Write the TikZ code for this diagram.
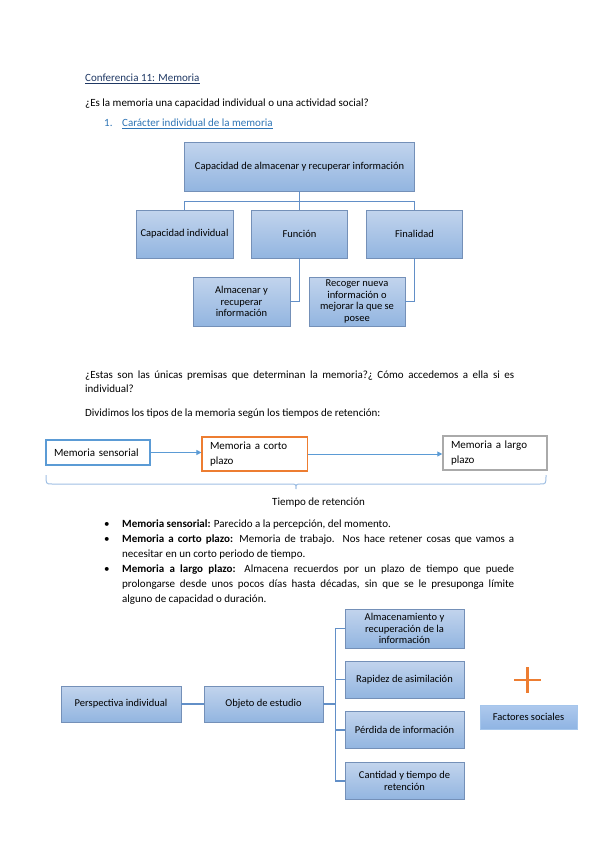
\documentclass[tikz,border=0pt]{standalone}
\usepackage{fontspec}
\setmainfont{Carlito}
\usetikzlibrary{arrows.meta}

\definecolor{smtop}{RGB}{194,212,237}
\definecolor{smbot}{RGB}{146,181,224}
\definecolor{smline}{RGB}{116,144,184}
\definecolor{conn}{RGB}{98,143,199}
\definecolor{tlblue}{RGB}{91,155,213}
\definecolor{tlorange}{RGB}{237,125,49}
\definecolor{tlgray}{RGB}{170,170,170}
\definecolor{bracec}{RGB}{160,192,228}
\definecolor{titleblue}{RGB}{31,56,100}
\definecolor{headblue}{RGB}{46,116,181}
\definecolor{ftop}{RGB}{174,201,237}
\definecolor{fbot}{RGB}{143,180,227}
\definecolor{fline}{RGB}{165,198,236}

\tikzset{
  txt/.style={anchor=base west, inner sep=0pt, font=\fontsize{11}{13}\selectfont},
  smbox/.style={draw=smline, line width=0.8pt, top color=smtop, bottom color=smbot,
    inner sep=2pt, align=center, font=\fontsize{10.5}{11.8}\selectfont},
  fbox/.style={draw=fline, line width=0.8pt, top color=ftop, bottom color=fbot,
    inner sep=2pt, align=center, font=\fontsize{10.5}{11.8}\selectfont},
  tlbox/.style={fill=white, line width=1.2pt, inner xsep=8pt, inner ysep=2pt,
    align=left, font=\fontsize{11}{14.5}\selectfont},
  connone/.style={draw=conn, line width=1.8pt},
  conntwo/.style={draw=conn, line width=1.5pt},
  tlarrow/.style={draw=tlblue, line width=1pt, -{Triangle[length=5pt,width=5pt]}},
}

\begin{document}
\begin{tikzpicture}[x=1pt,y=-1pt]
\useasboundingbox[fill=white] (0,0) rectangle (599,848);

% ---------- heading texts ----------
\node[txt, text=titleblue] (title) at (85,82) {\underline{Conferencia 11: Memoria}};
\node[txt] (q) at (85,107) {¿Es la memoria una capacidad individual o una actividad social?};
\node[txt, text=headblue] (num) at (104,127) {1.};
\node[txt, text=headblue] (head) at (122,127) {\underline{Carácter individual de la memoria}};

% ---------- first chart ----------
\node[smbox, minimum width=230pt, minimum height=49pt] (T) at (299.5,166.5)
  {Capacidad de almacenar y recuperar información};
\node[smbox, minimum width=97pt, minimum height=48pt] (C1) at (184.5,234) {Capacidad individual};
\node[smbox, minimum width=96pt, minimum height=48pt] (C2) at (299.5,234) {Función};
\node[smbox, minimum width=96pt, minimum height=48pt] (C3) at (414.5,234) {Finalidad};
\node[smbox, minimum width=97pt, minimum height=49pt] (D1) at (241.5,301.5)
  {Almacenar y\\recuperar\\información};
\node[smbox, minimum width=96pt, minimum height=49pt] (D2) at (357,301.5)
  {Recoger nueva\\información o\\mejorar la que se\\posee};

\draw[connone] (T.south) -- (C2.north);
\draw[connone] (C1.north) |- (299.5,201.5) -| (C3.north);
\draw[connone] (C2.south) |- (D1.east);
\draw[connone] (C3.south) |- (D2.east);

% ---------- paragraph ----------
\node[txt] (p1) at (85,378)
  {\makebox[429pt][s]{¿Estas son las únicas premisas que determinan la memoria?¿ Cómo accedemos a ella si es}};
\node[txt] (p2) at (85,392) {individual?};
\node[txt] (p3) at (85,416) {Dividimos los tipos de la memoria según los tiempos de retención:};

% ---------- timeline ----------
\node[tlbox, draw=tlblue, text width=88pt, minimum height=25pt] (A) at (98,452.5) {Memoria sensorial};
\node[tlbox, draw=tlorange, text width=89.5pt, minimum height=34pt] (B) at (254.75,454) {Memoria a corto\\plazo};
\node[tlbox, draw=tlgray, line width=1.5pt, text width=88pt, minimum height=34pt] (C) at (495,453) {Memoria a largo\\plazo};

\draw[tlarrow] (A.east) -- (A.east -| B.west);
\draw[tlarrow] (B.east) -- (B.east -| C.west);

\draw[bracec, line width=1pt]
  (46,475) .. controls (46,484) .. (52,484) -- (290,484)
  .. controls (296,484) .. (296,489) .. controls (296,484) .. (302,484)
  -- (540,484) .. controls (546,484) .. (546,475);
\node[txt] (tiempo) at (272,505) {Tiempo de retención};

% ---------- bullets ----------
\node[txt] (b1) at (104,527) {•};
\node[txt] (b2) at (104,542) {•};
\node[txt] (b3) at (104,572) {•};
\node[txt] (l1) at (122,527) {\textbf{Memoria sensorial:} Parecido a la percepción, del momento.};
\node[txt] (l2) at (122,542)
  {\makebox[392pt][s]{\textbf{Memoria a corto plazo:} Memoria de trabajo. Nos hace retener cosas que vamos a}};
\node[txt] (l3) at (122,557) {necesitar en un corto periodo de tiempo.};
\node[txt] (l4) at (122,572)
  {\makebox[392pt][s]{\textbf{Memoria a largo plazo:} Almacena recuerdos por un plazo de tiempo que puede}};
\node[txt] (l5) at (122,587)
  {\makebox[392pt][s]{prolongarse desde unos pocos días hasta décadas, sin que se le presuponga límite}};
\node[txt] (l6) at (122,602) {alguno de capacidad o duración.};

% ---------- second chart ----------
\node[smbox, minimum width=120pt, minimum height=36pt] (P) at (121,704) {Perspectiva individual};
\node[smbox, minimum width=119pt, minimum height=36pt] (O) at (263.5,704) {Objeto de estudio};
\node[smbox, minimum width=119pt, minimum height=39pt] (R1) at (404.5,628.5)
  {Almacenamiento y\\recuperación de la\\información};
\node[smbox, minimum width=119pt, minimum height=37pt] (R2) at (404.5,679.5) {Rapidez de asimilación};
\node[smbox, minimum width=119pt, minimum height=37pt] (R3) at (404.5,730) {Pérdida de información};
\node[smbox, minimum width=119pt, minimum height=37pt] (R4) at (404.5,781)
  {Cantidad y tiempo de\\retención};

\draw[conntwo] (P) -- (O);
\draw[conntwo] (O.east) -- ++(12,0) coordinate (trunk);
\draw[conntwo] (trunk) |- (R1.west);
\draw[conntwo] (trunk) |- (R2.west);
\draw[conntwo] (trunk) |- (R3.west);
\draw[conntwo] (trunk) |- (R4.west);

% plus sign
\draw[tlorange, line width=2.6pt] (514,680) -- (541,680);
\draw[tlorange, line width=2.6pt] (527.5,667) -- (527.5,693);

\node[fbox, minimum width=97pt, minimum height=24pt] (F) at (528.5,717) {Factores sociales};
\end{tikzpicture}
\end{document}
